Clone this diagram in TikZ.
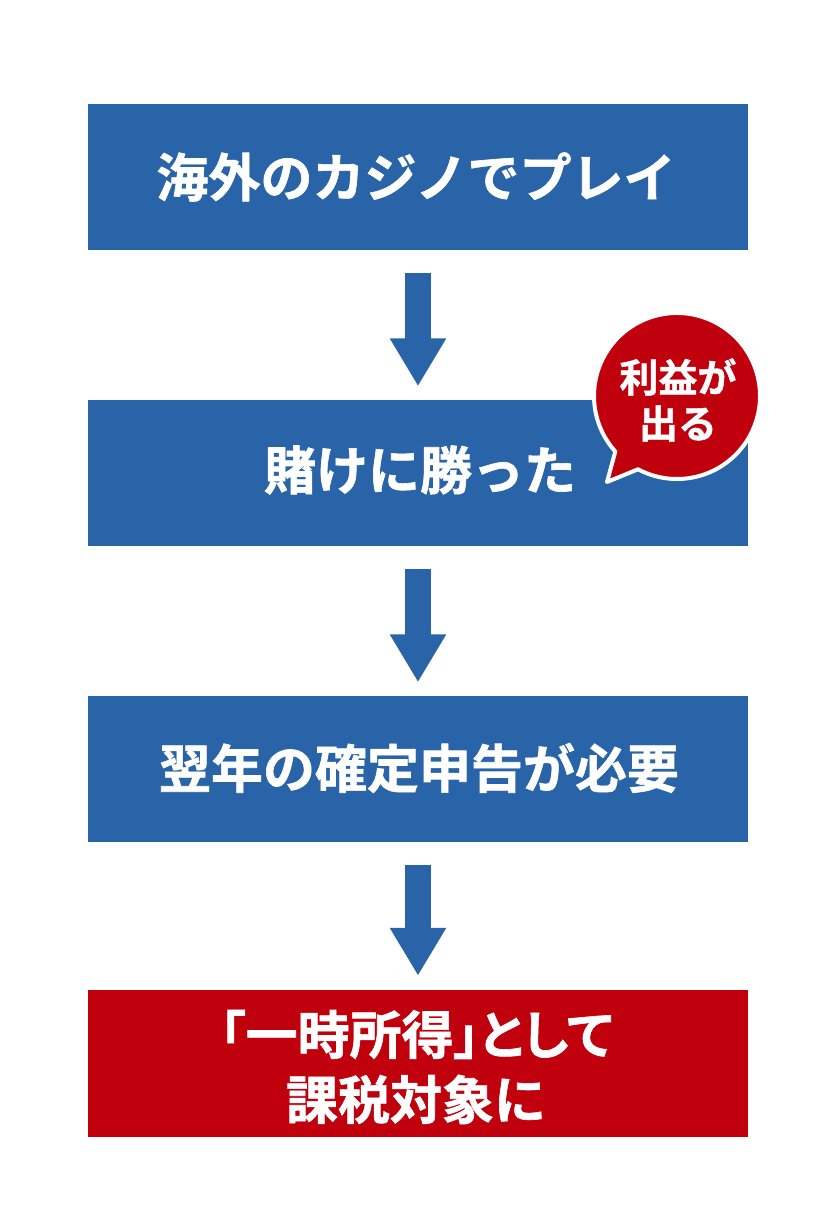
\documentclass[tikz,border=0pt]{standalone}
\usepackage{fontspec}
\setmainfont{Noto Sans CJK JP}[BoldFont={* Bold}, BoldFeatures={FakeBold=1.2}]
\usetikzlibrary{arrows.meta}
\definecolor{boxblue}{HTML}{2A64A8}
\definecolor{boxred}{HTML}{C1000E}
\tikzset{
  stepbox/.style={fill=boxblue, minimum width=660pt, minimum height=146pt, inner sep=0pt},
  redbox/.style={fill=boxred, minimum width=660pt, minimum height=147pt, inner sep=0pt},
  boxtext/.style={text=white, font=\bfseries\fontsize{52pt}{65pt}\selectfont, align=center, inner sep=0pt},
  flowarrow/.style={draw=boxblue, line width=26pt, -{Triangle[width=53pt,length=48pt]}},
}
\begin{document}
\begin{tikzpicture}[x=1pt,y=1pt]
\useasboundingbox (0,0) rectangle (838,1232);
\fill[white] (0,0) rectangle (838,1232);
% boxes
\node[stepbox] (b1) at (418,1054.5) {};
\node[stepbox] (b2) at (418,758.5) {};
\node[stepbox] (b3) at (418,462.5) {};
\node[redbox] (b4) at (418,168.5) {};
% texts
\node[boxtext] (t1) at (416,1055) {海外のカジノでプレイ};
\node[boxtext] (t2) at (420,762) {賭けに勝った};
\node[boxtext] (t3) at (419,464) {翌年の確定申告が必要};
\node[boxtext] (t4) at (416,165) {{\addfontfeatures{RawFeature=+palt}「一時所得」として}\\課税対象に};
% arrows
\draw[flowarrow] ([yshift=-22pt]b1.south) -- ([yshift=14pt]b2.north);
\draw[flowarrow] ([yshift=-22pt]b2.south) -- ([yshift=14pt]b3.north);
\draw[flowarrow] ([yshift=-22pt]b3.south) -- ([yshift=14pt]b4.north);
% speech bubble
\coordinate (bc) at (677,836);
\coordinate (tip) at (607,750);
\draw[fill=boxred, draw=white, line width=4pt, line join=round]
  (bc) ++(242:83pt) arc[start angle=242, end angle=582, radius=83pt] -- (tip) -- cycle;
\node[text=white, font=\bfseries\fontsize{39pt}{46pt}\selectfont, align=center, inner sep=0pt] (bt) at (678,832) {利益が\\出る};
\end{tikzpicture}
\end{document}
